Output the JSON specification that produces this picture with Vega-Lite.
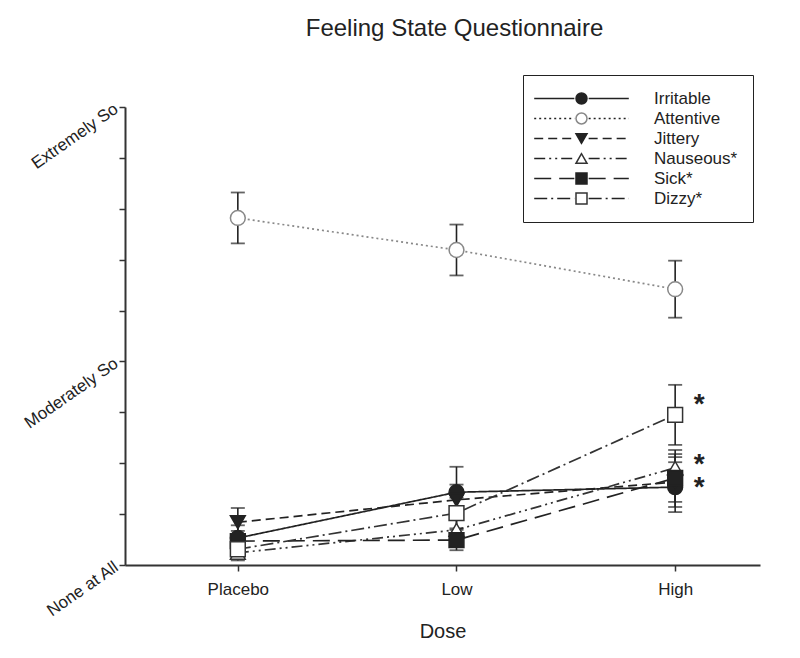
{
  "$schema": "https://vega.github.io/schema/vega-lite/v6.json",
  "width": 635,
  "height": 458,
  "autosize": {"type": "none"},
  "padding": {"left": 125, "top": 107, "right": 40, "bottom": 93},
  "background": "white",
  "config": {"view": {"stroke": null}, "font": "Liberation Sans"},
  "title": {"text": "Feeling State Questionnaire", "fontSize": 24, "fontWeight": "normal", "color": "#222", "anchor": "middle", "offset": 34, "dx": 12},
  "datasets": {
    "fsq": [
      {"series": "Irritable", "dose": 1, "mean": 0.53, "err": 0.25},
      {"series": "Irritable", "dose": 2, "mean": 1.43, "err": 0.5},
      {"series": "Irritable", "dose": 3, "mean": 1.53, "err": 0.49},
      {"series": "Attentive", "dose": 1, "mean": 6.82, "err": 0.5},
      {"series": "Attentive", "dose": 2, "mean": 6.19, "err": 0.5},
      {"series": "Attentive", "dose": 3, "mean": 5.42, "err": 0.56},
      {"series": "Jittery", "dose": 1, "mean": 0.84, "err": 0.28},
      {"series": "Jittery", "dose": 2, "mean": 1.28, "err": 0.3},
      {"series": "Jittery", "dose": 3, "mean": 1.63, "err": 0.49},
      {"series": "Nauseous*", "dose": 1, "mean": 0.24, "err": 0.15},
      {"series": "Nauseous*", "dose": 2, "mean": 0.69, "err": 0.3},
      {"series": "Nauseous*", "dose": 3, "mean": 1.91, "err": 0.35},
      {"series": "Sick*", "dose": 1, "mean": 0.47, "err": 0.2},
      {"series": "Sick*", "dose": 2, "mean": 0.49, "err": 0.2},
      {"series": "Sick*", "dose": 3, "mean": 1.71, "err": 0.47},
      {"series": "Dizzy*", "dose": 1, "mean": 0.31, "err": 0.18},
      {"series": "Dizzy*", "dose": 2, "mean": 1.02, "err": 0.3},
      {"series": "Dizzy*", "dose": 3, "mean": 2.95, "err": 0.59}
    ],
    "stars": [
      {"dose": 3, "mean": 3.24, "label": "*"},
      {"dose": 3, "mean": 2.06, "label": "*"},
      {"dose": 3, "mean": 1.61, "label": "*"}
    ]
  },
  "encoding": {
    "x": {
      "field": "dose", "type": "quantitative",
      "scale": {"domain": [0.484, 3.388], "nice": false, "zero": false},
      "axis": {
        "values": [1, 2, 3],
        "labelExpr": "datum.value == 1 ? 'Placebo' : datum.value == 2 ? 'Low' : 'High'",
        "labelFontSize": 17, "labelColor": "#222", "labelPadding": 10, "labelFlush": false,
        "title": "Dose", "titleFontSize": 20, "titleFontWeight": "normal", "titleColor": "#222", "titlePadding": 24,
        "grid": false, "tickSize": 6, "tickWidth": 1.5, "tickColor": "#333", "domainColor": "#333", "domainWidth": 2
      }
    },
    "y": {
      "field": "mean", "type": "quantitative",
      "scale": {"domain": [0, 9], "nice": false, "zero": true},
      "axis": {
        "values": [0, 1, 2, 3, 4, 5, 6, 7, 8, 9],
        "labelExpr": "datum.value == 0 ? 'None at All' : datum.value == 4 ? 'Moderately So' : datum.value == 9 ? 'Extremely So' : ''",
        "labelAngle": -35, "labelAlign": "right", "labelBaseline": "middle",
        "labelFontSize": 17, "labelColor": "#222", "labelPadding": 3, "labelOverlap": false, "labelFlush": false,
        "title": null, "grid": false, "tickSize": 6, "tickWidth": 1.5, "tickColor": "#333", "domainColor": "#333", "domainWidth": 2
      }
    }
  },
  "layer": [
    {
      "data": {"name": "fsq"},
      "mark": {"type": "line", "strokeWidth": 1.7},
      "encoding": {
        "strokeDash": {
          "field": "series", "type": "nominal", "sort": null,
          "scale": {"range": [[1, 0], [2, 3], [9, 5], [11, 4, 2, 4, 2, 4], [17, 8], [13, 4, 2, 4]]},
          "legend": {
            "orient": "none", "legendX": 398, "legendY": -32, "title": null,
            "padding": 15, "strokeColor": "#222",
            "symbolType": "M-8.6,0H-1.3M1.3,0H8.6", "symbolSize": 121,
            "symbolStrokeWidth": 1.6, "symbolStrokeColor": "#222",
            "symbolOffset": 35, "labelOffset": 64,
            "labelFontSize": 17, "labelColor": "#222", "rowPadding": 2
          }
        },
        "stroke": {
          "field": "series", "type": "nominal",
          "scale": {"domain": ["Irritable", "Attentive", "Jittery", "Nauseous*", "Sick*", "Dizzy*"],
                    "range": ["#222", "#888", "#222", "#333", "#222", "#333"]}
        }
      }
    },
    {
      "data": {"name": "fsq"},
      "mark": {"type": "errorbar", "ticks": {"size": 14, "thickness": 1.8, "color": "#222"}, "rule": {"strokeWidth": 1.6, "color": "#222"}},
      "encoding": {
        "yError": {"field": "err"}
      }
    },
    {
      "data": {"name": "fsq"},
      "mark": {"type": "point", "size": 220, "opacity": 1, "strokeWidth": 1.5, "filled": false},
      "encoding": {
        "shape": {
          "field": "series", "type": "nominal",
          "scale": {"domain": ["Irritable", "Attentive", "Jittery", "Nauseous*", "Sick*", "Dizzy*"],
                    "range": ["circle", "circle", "triangle-down", "triangle-up", "square", "square"]},
          "legend": {
            "orient": "none", "legendX": 398, "legendY": -32, "title": null,
            "padding": 15, "symbolSize": 121, "symbolOffset": 35, "symbolStrokeWidth": 1.5,
            "labelOpacity": 0, "labelFontSize": 17, "rowPadding": 2
          }
        },
        "fill": {
          "field": "series", "type": "nominal",
          "scale": {"domain": ["Irritable", "Attentive", "Jittery", "Nauseous*", "Sick*", "Dizzy*"],
                    "range": ["#222", "#ffffff", "#222", "#ffffff", "#222", "#ffffff"]}
        },
        "stroke": {
          "field": "series", "type": "nominal",
          "scale": {"domain": ["Irritable", "Attentive", "Jittery", "Nauseous*", "Sick*", "Dizzy*"],
                    "range": ["#222", "#888", "#222", "#333", "#222", "#333"]}
        }
      }
    },
    {
      "data": {"name": "stars"},
      "mark": {"type": "text", "fontSize": 28, "fontWeight": "bold", "color": "#222", "dx": 24, "dy": 5, "align": "center", "baseline": "middle"},
      "encoding": {
        "text": {"field": "label"}
      }
    }
  ]
}
